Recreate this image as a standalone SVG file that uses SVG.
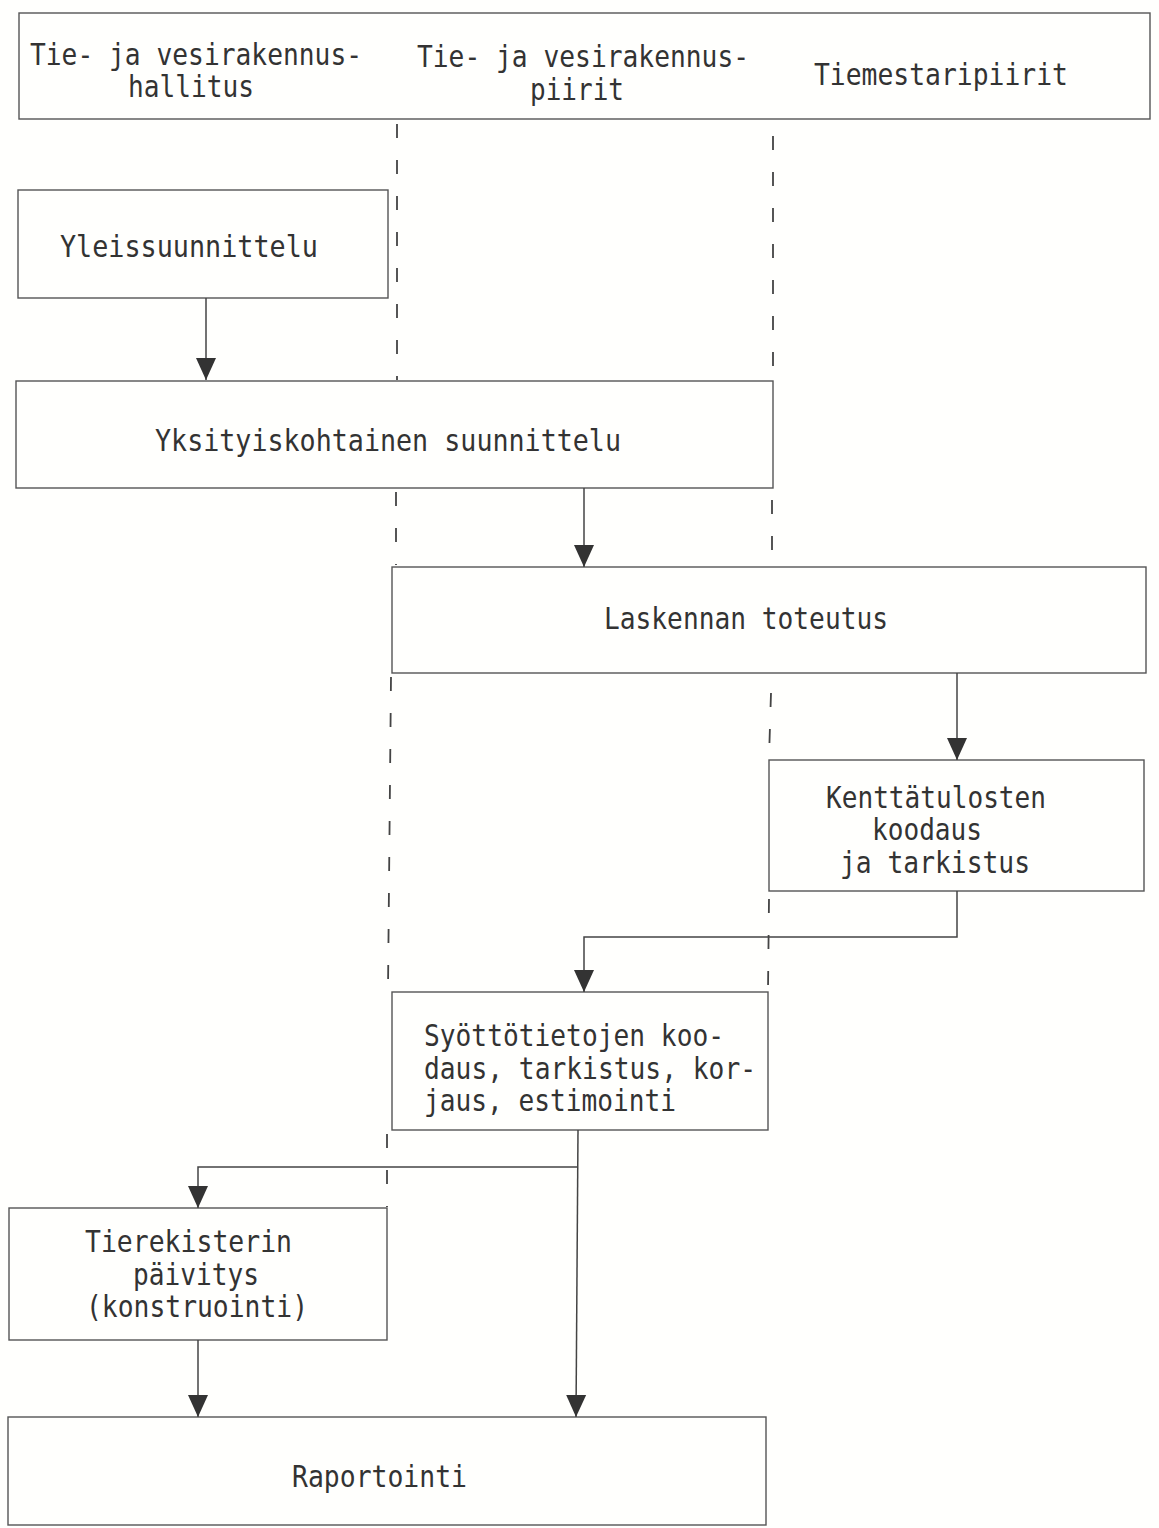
<svg xmlns="http://www.w3.org/2000/svg" width="1159" height="1528" viewBox="0 0 1159 1528">
<defs>
<style>
.bg{fill:#fffffd}
.box{fill:none;stroke:#555;stroke-width:1.4}
.lane{fill:none;stroke:#444;stroke-width:1.8;stroke-dasharray:14 22}
.con{fill:none;stroke:#444;stroke-width:1.5}
.t{font-family:"DejaVu Sans Mono","Liberation Mono",monospace;font-size:31px;fill:#333}
</style>
<marker id="ah" viewBox="0 -11 22 22" markerWidth="22" markerHeight="22" refX="22" refY="0" orient="auto" markerUnits="userSpaceOnUse">
<path d="M0,-10 L22,0 L0,10 Z" fill="#333"/>
</marker>
</defs>
<rect class="bg" x="0" y="0" width="1159" height="1528"/>

<g id="header">
<rect class="box" x="19" y="13" width="1131" height="106"/>
<text class="t" x="30" y="65" textLength="332" lengthAdjust="spacingAndGlyphs">Tie- ja vesirakennus-</text>
<text class="t" x="128" y="97" textLength="126" lengthAdjust="spacingAndGlyphs">hallitus</text>
<text class="t" x="417" y="67" textLength="332" lengthAdjust="spacingAndGlyphs">Tie- ja vesirakennus-</text>
<text class="t" x="530" y="100" textLength="94" lengthAdjust="spacingAndGlyphs">piirit</text>
<text class="t" x="814" y="85" textLength="254" lengthAdjust="spacingAndGlyphs">Tiemestaripiirit</text>
</g>

<g id="lanes">
<path class="lane" d="M397,124 V380 M396,492 V565 M391,677 L388,990 M387,1134 V1207"/>
<path class="lane" d="M773,136 V380 M772,500 V565 M771,693 L769,758 M769,899 L768,990"/>
</g>

<g id="yleissuunnittelu">
<rect class="box" x="18" y="190" width="370" height="108"/>
<text class="t" x="60" y="257" textLength="258" lengthAdjust="spacingAndGlyphs">Yleissuunnittelu</text>
</g>

<g id="yksityiskohtainen">
<rect class="box" x="16" y="381" width="757" height="107"/>
<text class="t" x="155" y="451" textLength="466" lengthAdjust="spacingAndGlyphs">Yksityiskohtainen suunnittelu</text>
</g>

<g id="laskennan">
<rect class="box" x="392" y="567" width="754" height="106"/>
<text class="t" x="604" y="629" textLength="284" lengthAdjust="spacingAndGlyphs">Laskennan toteutus</text>
</g>

<g id="kenttatulosten">
<rect class="box" x="769" y="760" width="375" height="131"/>
<text class="t" x="826" y="808" textLength="220" lengthAdjust="spacingAndGlyphs">Kenttätulosten</text>
<text class="t" x="872" y="840" textLength="110" lengthAdjust="spacingAndGlyphs">koodaus</text>
<text class="t" x="840" y="873" textLength="190" lengthAdjust="spacingAndGlyphs">ja tarkistus</text>
</g>

<g id="syottotietojen">
<rect class="box" x="392" y="992" width="376" height="138"/>
<text class="t" x="424" y="1046" textLength="300" lengthAdjust="spacingAndGlyphs">Syöttötietojen koo-</text>
<text class="t" x="424" y="1079" textLength="332" lengthAdjust="spacingAndGlyphs">daus, tarkistus, kor-</text>
<text class="t" x="424" y="1111" textLength="252" lengthAdjust="spacingAndGlyphs">jaus, estimointi</text>
</g>

<g id="tierekisterin">
<rect class="box" x="9" y="1208" width="378" height="132"/>
<text class="t" x="85" y="1252" textLength="207" lengthAdjust="spacingAndGlyphs">Tierekisterin</text>
<text class="t" x="133" y="1285" textLength="126" lengthAdjust="spacingAndGlyphs">päivitys</text>
<text class="t" x="86" y="1317" textLength="222" lengthAdjust="spacingAndGlyphs">(konstruointi)</text>
</g>

<g id="raportointi">
<rect class="box" x="8" y="1417" width="758" height="108"/>
<text class="t" x="292" y="1487" textLength="175" lengthAdjust="spacingAndGlyphs">Raportointi</text>
</g>

<g id="connectors">
<path class="con" d="M206,298 V380" marker-end="url(#ah)"/>
<path class="con" d="M584,488 V567" marker-end="url(#ah)"/>
<path class="con" d="M957,673 V760" marker-end="url(#ah)"/>
<path class="con" d="M957,891 V937 H584 V992" marker-end="url(#ah)"/>
<path class="con" d="M578,1130 L576,1417" marker-end="url(#ah)"/>
<path class="con" d="M577,1167 H198 V1208" marker-end="url(#ah)"/>
<path class="con" d="M198,1340 V1417" marker-end="url(#ah)"/>
</g>
</svg>
